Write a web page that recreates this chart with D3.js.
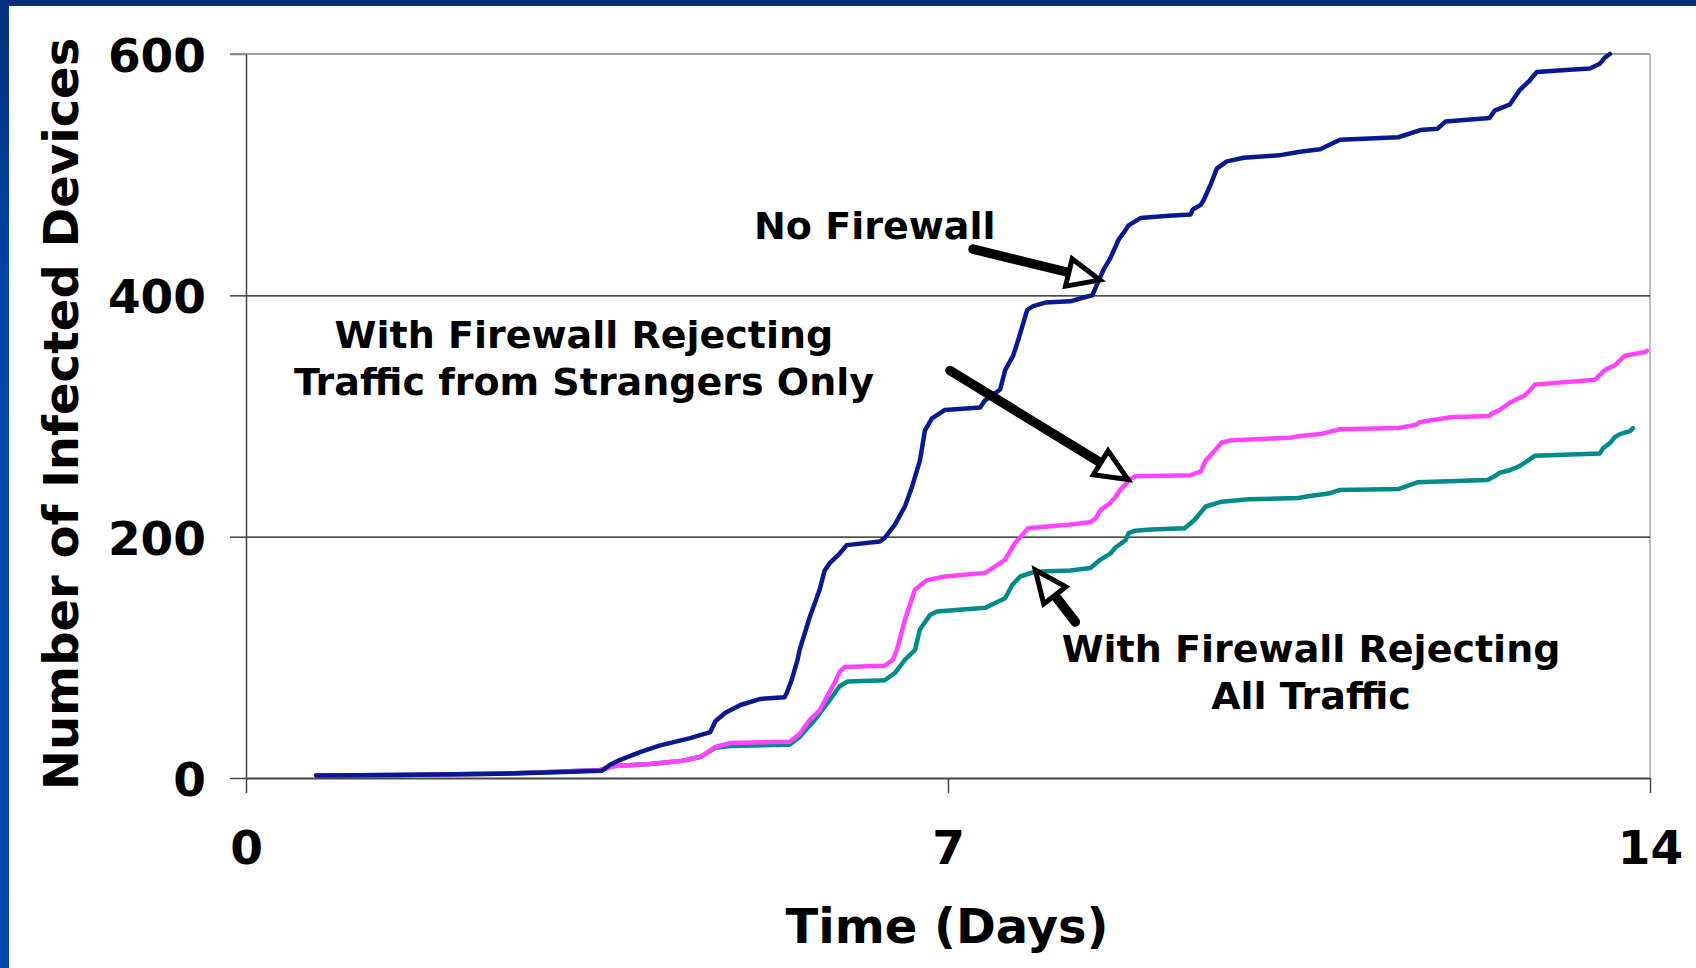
<!DOCTYPE html>
<html>
<head>
<meta charset="utf-8">
<script src="https://cdn.jsdelivr.net/npm/d3@7"></script>
<style>
  html, body { margin: 0; padding: 0; background: #ffffff; }
  svg { display: block; }
  text { font-family: "DejaVu Sans", Verdana, sans-serif; font-weight: bold; fill: #000; }
</style>
</head>
<body>
<svg id="chart" width="1696" height="968"></svg>
<script>
// ---------- DATA ----------
const xTickValues = [0, 7, 14];
const yTickValues = [0, 200, 400, 600];
const gridValues = [200, 400];
const xTitle = "Time (Days)";
const yTitle = "Number of Infected Devices";

// [day, infected devices]
const noFirewall = [
  [0.70, 2], [1.5, 2.5], [2.5, 3.5], [3.0, 4.5], [3.55, 6], [3.63, 11], [3.73, 15], [3.93, 21.5],
  [4.13, 27], [4.43, 33], [4.53, 35.5], [4.63, 38], [4.68, 47], [4.78, 54], [4.93, 60.5],
  [5.13, 65.5], [5.37, 67], [5.39, 70], [5.44, 81], [5.50, 98], [5.52, 106], [5.62, 133],
  [5.72, 156], [5.77, 172], [5.82, 178], [5.92, 186], [5.99, 193], [6.32, 196], [6.37, 199],
  [6.47, 210], [6.57, 225], [6.64, 241], [6.72, 263], [6.77, 288], [6.84, 298], [6.97, 305],
  [7.32, 307], [7.37, 313], [7.52, 322], [7.57, 338], [7.65, 350], [7.70, 363], [7.79, 388],
  [7.85, 391], [7.97, 394], [8.22, 395], [8.37, 398.6], [8.44, 400], [8.49, 410], [8.55, 421],
  [8.62, 431], [8.70, 446], [8.77, 454], [8.80, 458], [8.92, 464], [9.20, 466], [9.42, 467],
  [9.44, 471], [9.52, 475], [9.55, 479], [9.62, 492], [9.68, 505], [9.78, 511], [9.95, 514],
  [10.3, 516], [10.51, 519], [10.71, 521], [10.91, 529], [11.49, 531], [11.71, 537],
  [11.88, 538], [11.96, 544], [12.40, 547], [12.45, 553], [12.60, 558], [12.70, 570],
  [12.80, 578], [12.87, 585], [13.20, 587], [13.40, 588], [13.50, 592], [13.55, 597], [13.60, 600]
];

const rejectStrangers = [
  [0.70, 2], [1.5, 2.5], [2.5, 3.5], [3.03, 5], [3.53, 6.6], [3.68, 10], [4.03, 11.6],
  [4.33, 14], [4.53, 17.4], [4.68, 25.7], [4.83, 29], [5.42, 30], [5.52, 36.5], [5.62, 48],
  [5.72, 56], [5.79, 67], [5.87, 79], [5.92, 88], [5.97, 92], [6.37, 93], [6.45, 98],
  [6.49, 106], [6.57, 131], [6.67, 156], [6.79, 164], [6.97, 167], [7.37, 170], [7.52, 178],
  [7.57, 181], [7.64, 191], [7.67, 195], [7.80, 207], [8.22, 210], [8.42, 212], [8.47, 215],
  [8.52, 222], [8.62, 228], [8.67, 233], [8.72, 239], [8.79, 245], [8.82, 248], [8.87, 250],
  [9.42, 251], [9.52, 254], [9.57, 263.5], [9.62, 267.6], [9.73, 278], [9.83, 280],
  [10.41, 282], [10.51, 283.4], [10.71, 285], [10.91, 289], [11.49, 290], [11.66, 292.5],
  [11.71, 295], [12.01, 299], [12.40, 300], [12.42, 302], [12.50, 305], [12.60, 311],
  [12.75, 317], [12.80, 321], [12.85, 326], [13.45, 330], [13.50, 334], [13.55, 338],
  [13.65, 342], [13.70, 346], [13.75, 350], [13.95, 353], [13.97, 354]
];

const rejectAll = [
  [0.70, 2], [1.5, 2.5], [2.5, 3.5], [3.03, 5], [3.53, 6.6], [3.68, 10], [4.03, 11.6],
  [4.33, 14], [4.53, 17.4], [4.68, 25], [4.83, 26.5], [5.42, 27.6], [5.52, 34], [5.67, 48],
  [5.82, 64.6], [5.92, 76], [6.00, 80], [6.37, 81], [6.47, 87], [6.57, 98], [6.67, 106],
  [6.72, 123], [6.82, 135], [6.89, 138], [7.37, 141], [7.47, 145], [7.57, 149], [7.64, 160],
  [7.72, 167], [7.87, 171], [8.22, 172], [8.42, 174], [8.52, 181], [8.62, 186], [8.67, 191],
  [8.77, 197], [8.80, 203], [8.87, 205], [9.02, 206], [9.36, 207], [9.46, 214], [9.57, 225],
  [9.73, 229], [10.0, 231], [10.49, 232], [10.61, 233.7], [10.81, 236], [10.91, 238.7],
  [11.49, 239.5], [11.61, 243], [11.68, 245], [12.38, 247], [12.45, 250], [12.50, 253],
  [12.60, 255], [12.70, 258.5], [12.80, 264], [12.85, 267], [13.50, 269], [13.53, 273],
  [13.60, 277.5], [13.65, 282.5], [13.70, 285], [13.80, 287.5], [13.83, 290]
];

const seriesNames = ["No Firewall", "Reject Strangers", "Reject All"];
const seriesColors = ["#0A1A8E", "#FF44FF", "#008B8B"];

// annotations: text lines, and arrows in data units [fromDay, fromVal, toDay, toVal]
const annotations = [
  { lines: ["No Firewall"], day: 6.27, val: 447 },
  { lines: ["With Firewall Rejecting", "Traffic from Strangers Only"], day: 3.37, val: 356 },
  { lines: ["With Firewall Rejecting", "All Traffic"], day: 10.62, val: 96 }
];
const arrows = [
  [7.25, 438.3, 8.515, 412.6],
  [7.02, 337.7, 8.795, 247.3],
  [8.27, 129.3, 7.87, 172.4]
];

// ---------- LAYOUT ----------
const svg = d3.select("#chart");
const W = 1696, H = 968;
const x = d3.scaleLinear().domain([0, 14]).range([246, 1650]);
const y = d3.scaleLinear().domain([0, 600]).range([778, 54]);

// background frame
const defs = svg.append("defs");
const lg = defs.append("linearGradient").attr("id", "leftGrad")
  .attr("x1", 0).attr("y1", 0).attr("x2", 0).attr("y2", 1);
lg.append("stop").attr("offset", "0").attr("stop-color", "#06307a");
lg.append("stop").attr("offset", "0.3").attr("stop-color", "#0046a8");
lg.append("stop").attr("offset", "1").attr("stop-color", "#004aaf");

svg.append("rect").attr("x", 0).attr("y", 0).attr("width", W).attr("height", H).attr("fill", "#fff");
svg.append("rect").attr("x", 0).attr("y", 0).attr("width", W).attr("height", 6).attr("fill", "#032f76");
svg.append("rect").attr("x", 0).attr("y", 0).attr("width", 9).attr("height", H).attr("fill", "url(#leftGrad)");

// plot border (top / right)
svg.append("line").attr("x1", x(0) - 16).attr("x2", x(14)).attr("y1", y(600)).attr("y2", y(600))
  .attr("stroke", "#808080").attr("stroke-width", 1.5);
svg.append("line").attr("x1", x(14)).attr("x2", x(14)).attr("y1", y(600)).attr("y2", y(0))
  .attr("stroke", "#bdbdbd").attr("stroke-width", 2);

// gridlines
const grid = svg.append("g").attr("transform", `translate(${x(0)},0)`)
  .call(d3.axisLeft(y).tickValues(gridValues).tickSize(-(x(14) - x(0))).tickFormat(""));
grid.select(".domain").remove();
grid.selectAll("line").attr("stroke", "#111").attr("stroke-width", 1.3);

// y axis
const yAx = svg.append("g").attr("transform", `translate(${x(0)},0)`)
  .call(d3.axisLeft(y).tickValues(yTickValues).tickSize(16).tickSizeOuter(0).tickPadding(24)
    .tickFormat(d3.format("d")));
yAx.select(".domain").attr("stroke", "#444").attr("stroke-width", 1.5);
yAx.selectAll(".tick line").attr("stroke", (d) => d === 600 ? "#808080" : "#444").attr("stroke-width", 1.5);
yAx.selectAll(".tick text").attr("font-size", 47).attr("font-family", "DejaVu Sans")
  .attr("font-weight", "bold").attr("fill", "#000").attr("dy", "0.37em");

// x axis
const xAx = svg.append("g").attr("transform", `translate(0,${y(0)})`)
  .call(d3.axisBottom(x).tickValues(xTickValues).tickSize(15).tickSizeOuter(0).tickPadding(38)
    .tickFormat(d3.format("d")));
xAx.select(".domain").attr("stroke", "#444").attr("stroke-width", 1.8);
xAx.selectAll(".tick line").attr("stroke", "#444").attr("stroke-width", 1.5);
xAx.selectAll(".tick text").attr("font-size", 47).attr("font-family", "DejaVu Sans")
  .attr("font-weight", "bold").attr("fill", "#000");

// axis titles
svg.append("text").attr("x", (x(0) + x(14)) / 2 - 1).attr("y", 943)
  .attr("text-anchor", "middle").attr("font-size", 48).text(xTitle);
svg.append("text").attr("transform", `translate(78,414) rotate(-90)`)
  .attr("text-anchor", "middle").attr("font-size", 48).text(yTitle);

// series
const line = d3.line().x(d => x(d[0])).y(d => y(d[1]));
const allSeries = [rejectAll, rejectStrangers, noFirewall];
const allColors = [seriesColors[2], seriesColors[1], seriesColors[0]];
svg.append("g").selectAll("path").data(allSeries).join("path")
  .attr("d", line).attr("fill", "none")
  .attr("stroke", (d, i) => allColors[i]).attr("stroke-width", 4.5)
  .attr("stroke-linejoin", "round").attr("stroke-linecap", "round");

// annotations
const ann = svg.append("g");
annotations.forEach(a => {
  const t = ann.append("text").attr("text-anchor", "middle").attr("font-size", 38)
    .attr("x", x(a.day)).attr("y", y(a.val));
  a.lines.forEach((l, i) => {
    t.append("tspan").attr("x", x(a.day)).attr("dy", i === 0 ? 0 : 47).text(l);
  });
});

// arrows
const headLen = 32, headHalf = 14;
arrows.forEach(a => {
  const x1 = x(a[0]), y1 = y(a[1]), x2 = x(a[2]), y2 = y(a[3]);
  const dx = x2 - x1, dy = y2 - y1, L = Math.hypot(dx, dy);
  const ux = dx / L, uy = dy / L, px = -uy, py = ux;
  const bx = x2 - ux * headLen, by = y2 - uy * headLen;
  ann.append("line").attr("x1", x1).attr("y1", y1).attr("x2", bx + ux * 2).attr("y2", by + uy * 2)
    .attr("stroke", "#000").attr("stroke-width", 9.5).attr("stroke-linecap", "round");
  const pts = [[x2, y2], [bx + px * headHalf, by + py * headHalf], [bx - px * headHalf, by - py * headHalf]];
  ann.append("polygon").attr("points", pts.map(p => p.join(",")).join(" "))
    .attr("fill", "#fff").attr("stroke", "#000").attr("stroke-width", 5).attr("stroke-linejoin", "miter");
});
</script>
</body>
</html>
